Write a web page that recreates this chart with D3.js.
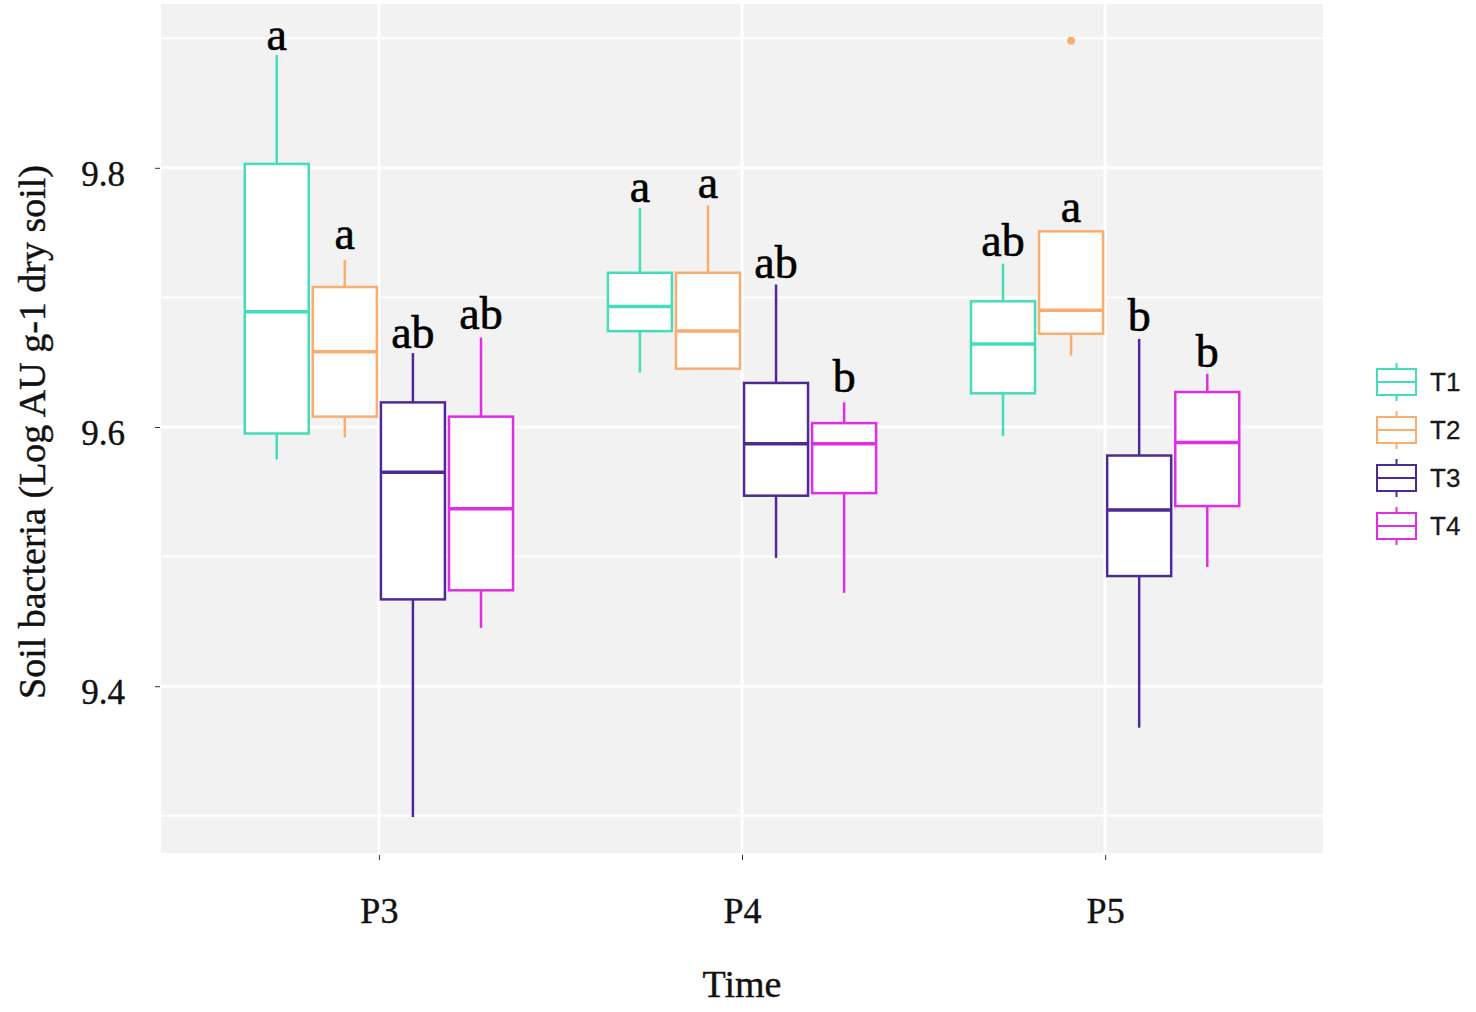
<!DOCTYPE html>
<html>
<head>
<meta charset="utf-8">
<script src="https://cdn.jsdelivr.net/npm/d3@7"></script>
<style>
  body { margin: 0; background: #ffffff; }
  svg { display: block; }
</style>
</head>
<body>
<div id="container"></div>
<script>
// data (log AU per g dry soil)
const times = ["P3", "P4", "P5"];
const treatments = ["T1", "T2", "T3", "T4"];

// one row per treatment, one value per time (P3, P4, P5)
const whiskerLow = [
  [9.575, 9.642, 9.593],
  [9.592, 9.645, 9.655],
  [9.299, 9.499, 9.368],
  [9.445, 9.472, 9.492]
];
const q1 = [
  [9.595, 9.674, 9.626],
  [9.608, 9.645, 9.672],
  [9.467, 9.547, 9.485],
  [9.474, 9.549, 9.539]
];
const medians = [
  [9.689, 9.693, 9.664],
  [9.658, 9.674, 9.690],
  [9.565, 9.587, 9.536],
  [9.537, 9.587, 9.588]
];
const q3 = [
  [9.803, 9.719, 9.697],
  [9.708, 9.719, 9.751],
  [9.619, 9.634, 9.578],
  [9.608, 9.603, 9.627]
];
const whiskerHigh = [
  [9.887, 9.769, 9.726],
  [9.729, 9.771, 9.751],
  [9.657, 9.710, 9.668],
  [9.669, 9.619, 9.641]
];
const outlierTime = ["P5"];
const outlierTrt = ["T2"];
const outlierValue = [9.898];

// significance letters and the height they sit at
const letters = [
  ["a", "a", "ab"],
  ["a", "a", "a"],
  ["ab", "ab", "b"],
  ["ab", "b", "b"]
];
const letterY = [
  [9.891, 9.774, 9.732],
  [9.737, 9.777, 9.758],
  [9.661, 9.715, 9.674],
  [9.676, 9.627, 9.646]
];

const yTicks = [9.4, 9.6, 9.8];
const yMinor = [9.3, 9.5, 9.7, 9.9];
const colors = ["#45dcba", "#f9ae70", "#4d2a95", "#e02ee6"];

/* LAYOUT */
const W = 1476, H = 1012;
const panel = { left: 161, right: 1323, top: 4, bottom: 853 };
const serif = "'Liberation Serif', 'Times New Roman', serif";

const svg = d3.select("#container")
  .append("svg")
  .attr("width", W)
  .attr("height", H);

const x = d3.scalePoint()
  .domain(times)
  .range([panel.left, panel.right])
  .padding(0.6);

const step = x.step();
const dodge = d3.scaleBand()
  .domain(treatments)
  .range([-0.375 * step, 0.375 * step]);
const boxW = dodge.bandwidth() * 0.94;

const y = d3.scaleLinear()
  .domain([9.2713, 9.9264])
  .range([panel.bottom, panel.top]);

// panel background + grid
svg.append("rect")
  .attr("x", panel.left).attr("y", panel.top)
  .attr("width", panel.right - panel.left)
  .attr("height", panel.bottom - panel.top)
  .attr("fill", "#f2f2f2");

svg.selectAll(".minor-grid")
  .data(yMinor)
  .join("line")
  .attr("class", "minor-grid")
  .attr("x1", panel.left).attr("x2", panel.right)
  .attr("y1", d => y(d)).attr("y2", d => y(d))
  .attr("stroke", "#ffffff").attr("stroke-width", 2);

svg.selectAll(".major-grid")
  .data(yTicks)
  .join("line")
  .attr("class", "major-grid")
  .attr("x1", panel.left).attr("x2", panel.right)
  .attr("y1", d => y(d)).attr("y2", d => y(d))
  .attr("stroke", "#ffffff").attr("stroke-width", 3);

svg.selectAll(".x-grid")
  .data(times)
  .join("line")
  .attr("class", "x-grid")
  .attr("x1", d => x(d)).attr("x2", d => x(d))
  .attr("y1", panel.top).attr("y2", panel.bottom)
  .attr("stroke", "#ffffff").attr("stroke-width", 3);

// axes
const yAxis = svg.append("g")
  .attr("transform", `translate(${panel.left - 1},0)`)
  .call(d3.axisLeft(y).tickValues(yTicks).tickFormat(d3.format(".1f")).tickSize(5).tickPadding(30));
yAxis.select(".domain").remove();
yAxis.selectAll("line").attr("stroke", "#333");
yAxis.selectAll("text")
  .attr("dy", "0.5em")
  .style("font-family", serif)
  .style("font-size", "35px")
  .attr("fill", "#111")
  .attr("stroke", "#111").attr("stroke-width", 0.4);

const xAxis = svg.append("g")
  .attr("transform", `translate(0,${panel.bottom + 2})`)
  .call(d3.axisBottom(x).tickSize(5).tickPadding(37));
xAxis.select(".domain").remove();
xAxis.selectAll("line").attr("stroke", "#333");
xAxis.selectAll("text")
  .attr("dy", "0.71em")
  .style("font-family", serif)
  .style("font-size", "36px")
  .attr("fill", "#111")
  .attr("stroke", "#111").attr("stroke-width", 0.4);

// axis titles
svg.append("text")
  .attr("x", (panel.left + panel.right) / 2)
  .attr("y", 997)
  .attr("text-anchor", "middle")
  .style("font-family", serif)
  .style("font-size", "38px")
  .attr("fill", "#111")
  .attr("stroke", "#111").attr("stroke-width", 0.4)
  .text("Time");

svg.append("text")
  .attr("transform", `translate(45,${432}) rotate(-90)`)
  .attr("text-anchor", "middle")
  .style("font-family", serif)
  .style("font-size", "38px")
  .attr("fill", "#111")
  .attr("stroke", "#111").attr("stroke-width", 0.4)
  .text("Soil bacteria (Log AU g-1 dry soil)");

// build box rows from the arrays
const boxes = [];
treatments.forEach((t, i) => {
  times.forEach((p, j) => {
    boxes.push({
      time: p, trt: t, color: colors[i],
      lo: whiskerLow[i][j], q1: q1[i][j], med: medians[i][j],
      q3: q3[i][j], hi: whiskerHigh[i][j],
      letter: letters[i][j], ly: letterY[i][j]
    });
  });
});
const cx = d => x(d.time) + dodge(d.trt) + dodge.bandwidth() / 2;

const g = svg.append("g");

// whiskers
g.selectAll(".whisker-up")
  .data(boxes)
  .join("line")
  .attr("x1", cx).attr("x2", cx)
  .attr("y1", d => y(d.q3)).attr("y2", d => y(d.hi))
  .attr("stroke", d => d.color).attr("stroke-width", 2.5);

g.selectAll(".whisker-down")
  .data(boxes)
  .join("line")
  .attr("x1", cx).attr("x2", cx)
  .attr("y1", d => y(d.q1)).attr("y2", d => y(d.lo))
  .attr("stroke", d => d.color).attr("stroke-width", 2.5);

// boxes
g.selectAll(".box")
  .data(boxes)
  .join("rect")
  .attr("x", d => cx(d) - boxW / 2)
  .attr("y", d => y(d.q3))
  .attr("width", boxW)
  .attr("height", d => y(d.q1) - y(d.q3))
  .attr("fill", "#ffffff")
  .attr("stroke", d => d.color)
  .attr("stroke-width", 2.5);

// medians
g.selectAll(".median")
  .data(boxes)
  .join("line")
  .attr("x1", d => cx(d) - boxW / 2).attr("x2", d => cx(d) + boxW / 2)
  .attr("y1", d => y(d.med)).attr("y2", d => y(d.med))
  .attr("stroke", d => d.color).attr("stroke-width", 3.5);

// outliers
g.selectAll(".outlier")
  .data(outlierValue)
  .join("circle")
  .attr("cx", (d, i) => x(outlierTime[i]) + dodge(outlierTrt[i]) + dodge.bandwidth() / 2)
  .attr("cy", d => y(d))
  .attr("r", 4)
  .attr("fill", (d, i) => colors[treatments.indexOf(outlierTrt[i])]);

// letters
g.selectAll(".letter")
  .data(boxes)
  .join("text")
  .attr("x", cx)
  .attr("y", d => y(d.ly))
  .attr("text-anchor", "middle")
  .style("font-family", serif)
  .style("font-size", "46px")
  .attr("fill", "#000")
  .attr("stroke", "#000").attr("stroke-width", 0.6)
  .text(d => d.letter);

// legend
const legend = svg.append("g").attr("transform", "translate(1377,382)");
const keyW = 39, spacing = 48;
const item = legend.selectAll(".key")
  .data(treatments)
  .join("g")
  .attr("transform", (d, i) => `translate(0,${i * spacing})`);

item.append("line")
  .attr("x1", keyW / 2).attr("x2", keyW / 2)
  .attr("y1", -19).attr("y2", 19)
  .attr("stroke", (d, i) => colors[i]).attr("stroke-width", 2);
item.append("rect")
  .attr("x", 0).attr("y", -13)
  .attr("width", keyW).attr("height", 26)
  .attr("fill", "#ffffff")
  .attr("stroke", (d, i) => colors[i]).attr("stroke-width", 2);
item.append("line")
  .attr("x1", 0).attr("x2", keyW)
  .attr("y1", 0).attr("y2", 0)
  .attr("stroke", (d, i) => colors[i]).attr("stroke-width", 2);
item.append("text")
  .attr("x", 53)
  .attr("y", 0)
  .attr("dy", "0.36em")
  .style("font-family", "'Liberation Sans', Arial, sans-serif")
  .style("font-size", "26px")
  .attr("fill", "#1a1a1a")
  .attr("stroke", "#1a1a1a").attr("stroke-width", 0.3)
  .text(d => d);
</script>
</body>
</html>
